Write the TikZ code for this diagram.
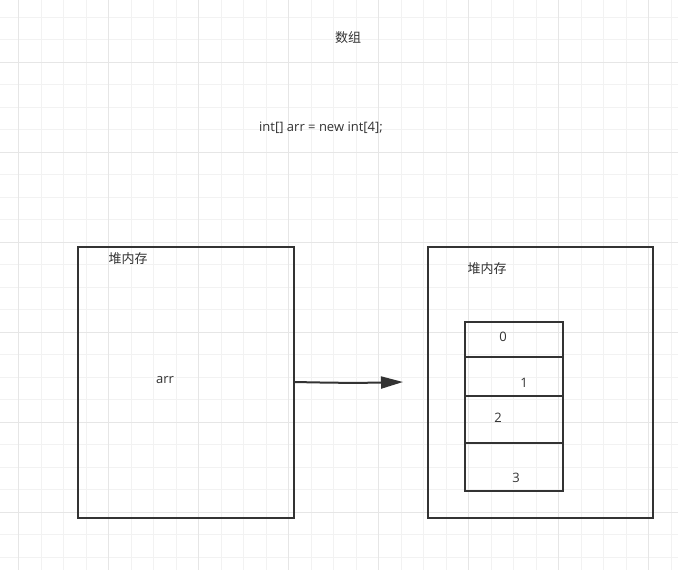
\documentclass[tikz,border=0pt]{standalone}
\usepackage{fontspec}
\setmainfont{Open Sans}
\newfontfamily\cjk{Noto Sans CJK SC}
\usetikzlibrary{arrows.meta}
\definecolor{ln}{HTML}{333333}
\definecolor{gmin}{HTML}{F2F2F2}
\definecolor{gmaj}{HTML}{E6E6E6}
\begin{document}
\begin{tikzpicture}[x=1pt,y=-1pt,
  box/.style={draw=ln,line width=2pt},
  lbl/.style={font=\fontsize{13}{15}\selectfont,text=ln,inner sep=0pt}]
\useasboundingbox (0,0) rectangle (678,570);
\fill[white] (0,0) rectangle (678,570);
\foreach \x in {-4,-3,...,30} \draw[gmin,line width=1pt] (18.5+22.5*\x,0) -- (18.5+22.5*\x,570);
\foreach \y in {-1,0,...,25} \draw[gmin,line width=1pt] (0,17+22.5*\y) -- (678,17+22.5*\y);
\foreach \x in {-1,0,...,7} \draw[gmaj,line width=1pt] (18.5+90*\x,0) -- (18.5+90*\x,570);
\foreach \y in {-1,0,...,6} \draw[gmaj,line width=1pt] (0,62+90*\y) -- (678,62+90*\y);
\node[lbl] (title) at (348,38) {\cjk 数组};
\node[lbl] (code) at (321,128) {int[] arr = new int[4];};
\draw[box] (78,247) rectangle (294,518);
\node[lbl] (h1) at (128,259) {\cjk 堆内存};
\node[lbl] (arr) at (165,380) {arr};
\draw[box] (428,247) rectangle (653,518);
\node[lbl] (h2) at (487,269) {\cjk 堆内存};
\draw[box] (465,322) rectangle (563,491);
\foreach \y in {357,396,443} \draw[box] (465,\y) -- (563,\y);
\node[lbl] (c0) at (503,337) {0};
\node[lbl] (c1) at (524,383) {1};
\node[lbl] (c2) at (498,418) {2};
\node[lbl] (c3) at (516,478) {3};
\coordinate (s) at (295,382);
\coordinate (e) at (403,382);
\draw[draw=ln,line width=2pt,-{Triangle[length=22pt,width=12pt]}] (s) .. controls (340,383) and (360,383) .. (e);
\end{tikzpicture}
\end{document}
